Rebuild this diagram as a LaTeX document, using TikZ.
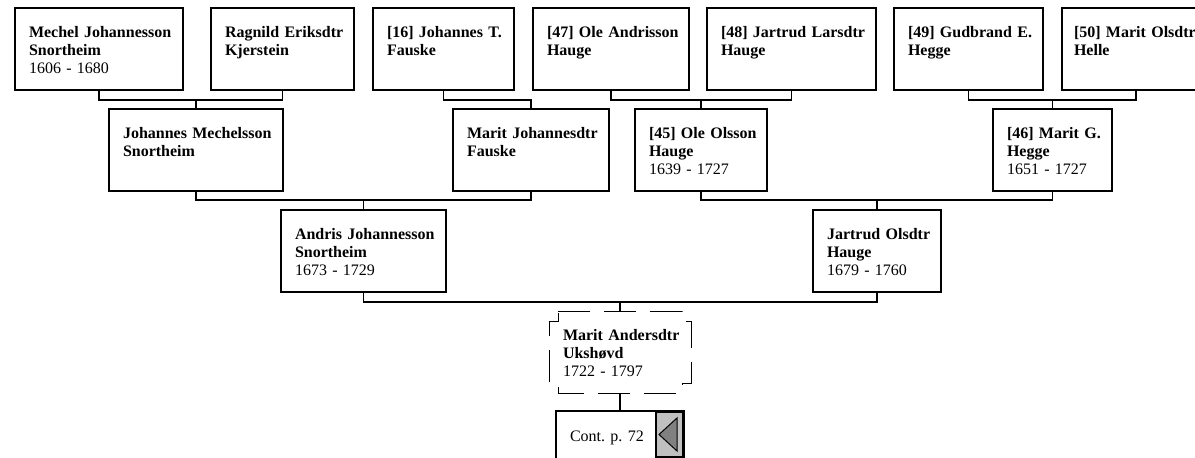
\documentclass[tikz,border=0pt]{standalone}
\usepackage{fontspec}
\setmainfont{Liberation Serif}
\usepackage{tikz}

\definecolor{btngray}{RGB}{192,192,192}
\definecolor{arrowgray}{RGB}{128,128,128}

\tikzset{
	person/.style={draw, line width=1.5pt, anchor=north west, align=left,
		inner xsep=14pt, inner ysep=0pt, outer sep=0pt,
		text height=29pt, text depth=53pt, font=\fontsize{16}{18}\selectfont},
	link/.style={line width=1.5pt},
	notch/.style={line width=1pt, dash pattern=on 32pt off 14pt},
	contbox/.style={draw, line width=2.5pt, anchor=north west, align=left,
		inner xsep=14pt, inner ysep=0pt, outer sep=0pt,
		text height=30pt, text depth=40pt, font=\fontsize{16}{18}\selectfont},
	contbtn/.style={draw, fill=btngray, line width=1.2pt, anchor=north east,
		minimum width=27pt, minimum height=45pt, inner sep=0pt, outer sep=0pt}
}

\newcommand{\who}[3]{\mbox{\bfseries #1}\\\mbox{\bfseries #2}\\\mbox{#3}}

\begin{document}
\begin{tikzpicture}[x=1pt, y=-1pt]
\useasboundingbox (0,0) rectangle (1195,458);

	% great-grandparents
	\node[person, text width=140pt] (mechel) at (15,8) {\who{Mechel Johannesson}{Snortheim}{1606 - 1680}};
	\node[person, text width=115pt] (ragnild) at (211,8) {\who{Ragnild Eriksdtr}{Kjerstein}{}};
	\node[person, text width=113pt] (johannest) at (373,8) {\who{[16] Johannes T.}{Fauske}{}};
	\node[person, text width=128pt] (ole47) at (533,8) {\who{[47] Ole Andrisson}{Hauge}{}};
	\node[person, text width=141pt] (jartrud48) at (707,8) {\who{[48] Jartrud Larsdtr}{Hauge}{}};
	\node[person, text width=121pt] (gudbrand49) at (894,8) {\who{[49] Gudbrand E.}{Hegge}{}};
	\node[person, text width=124pt, inner xsep=12pt] (marit50) at (1062,8) {\who{[50] Marit Olsdtr}{Helle}{}};

	% grandparents
	\node[person, text width=146pt] (johannesm) at (109,109) {\who{Johannes Mechelsson}{Snortheim}{}};
	\node[person, text width=128pt] (maritj) at (453,109) {\who{Marit Johannesdtr}{Fauske}{}};
	\node[person, text width=104pt] (ole45) at (635,109) {\who{[45] Ole Olsson}{Hauge}{1639 - 1727}};
	\node[person, text width=91pt] (marit46) at (993,109) {\who{[46] Marit G.}{Hegge}{1651 - 1727}};

	% parents
	\node[person, text width=137pt] (andris) at (281,210) {\who{Andris Johannesson}{Snortheim}{1673 - 1729}};
	\node[person, text width=100pt] (jartrudo) at (813,210) {\who{Jartrud Olsdtr}{Hauge}{1679 - 1760}};

	% person
	\node[person, draw=none, text width=114pt] (marita) at (549,311) {\who{Marit Andersdtr}{Ukshøvd}{1722 - 1797}};
	\draw[notch] ([shift={(9,0)}]marita.north west) -- ([shift={(-9,0)}]marita.north east)
		-- ([shift={(-9,10)}]marita.north east) -- ([shift={(0,10)}]marita.north east)
		-- ([shift={(0,-10)}]marita.south east) -- ([shift={(-9,-10)}]marita.south east)
		-- ([shift={(-9,0)}]marita.south east) -- ([shift={(9,0)}]marita.south west)
		-- ([shift={(9,-10)}]marita.south west) -- ([shift={(0,-10)}]marita.south west)
		-- ([shift={(0,10)}]marita.north west) -- ([shift={(9,10)}]marita.north west) -- cycle;

	\node[contbox, text width=100pt] (cont) at (556,411) {Cont.\ p.\ 72};
	\node[contbtn] (back) at ([shift={(-1,1)}]cont.north east) {};
	\draw[fill=arrowgray, line width=1pt] ([shift={(3,0)}]back.west)
		-- ([shift={(-6,6)}]back.north east) -- ([shift={(-6,-6)}]back.south east) -- cycle;

	% connectors
	\draw[link] (mechel.south) -- ++(0,10) -| (ragnild.south);
	\draw[link] (johannesm.north) -- ++(0,-9);
	\draw[link] (johannest.south) -- ++(0,10) -| (maritj.north);
	\draw[link] (ole47.south) -- ++(0,10) -| (jartrud48.south);
	\draw[link] (ole45.north) -- ++(0,-9);
	\draw[link] (gudbrand49.south) -- ++(0,10) -| (marit50.south);
	\draw[link] (marit46.north) -- ++(0,-9);

	\draw[link] (johannesm.south) -- ++(0,9) -| (maritj.south);
	\draw[link] (andris.north) -- ++(0,-10);
	\draw[link] (ole45.south) -- ++(0,9) -| (marit46.south);
	\draw[link] (jartrudo.north) -- ++(0,-10);

	\draw[link] (andris.south) -- ++(0,10) -| (jartrudo.south);
	\draw[link] (marita.north) -- ++(0,-9);
	\draw[link] (marita.south) -- (cont.north);

\end{tikzpicture}
\end{document}
